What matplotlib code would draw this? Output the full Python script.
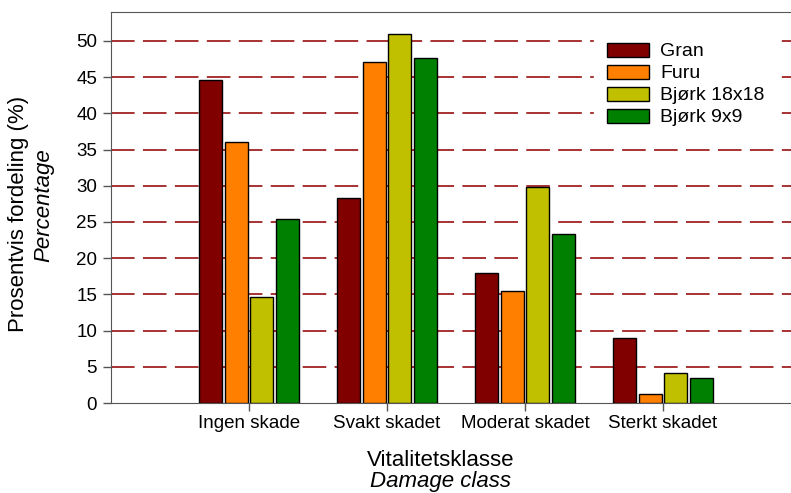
import numpy as np
import matplotlib.pyplot as plt

plt.rcParams['font.family'] = ['Liberation Sans', 'DejaVu Sans']
plt.rcParams['lines.scale_dashes'] = False

# Data
classes = ['Ingen skade', 'Svakt skadet', 'Moderat skadet', 'Sterkt skadet']
series = ['Gran', 'Furu', 'Bjørk 18x18', 'Bjørk 9x9']
gran = [44.6, 28.3, 17.9, 9.0]
furu = [36.1, 47.1, 15.5, 1.2]
bjork18 = [14.7, 51.0, 29.9, 4.1]
bjork9 = [25.4, 47.6, 23.3, 3.5]
colors = ['#800000', '#ff8000', '#c0c000', '#008000']

values = [gran, furu, bjork18, bjork9]

fig = plt.figure(figsize=(7.91, 4.93), dpi=100)
ax = fig.add_axes([111 / 791, 1 - 403 / 493, 690 / 791, 391 / 493])

x = np.arange(len(classes))
step = 0.186
width = 0.167
for i, (name, vals, c) in enumerate(zip(series, values, colors)):
    ax.bar(x + (i - 1.5) * step, vals, width, color=c, edgecolor='black',
           linewidth=1.0, label=name, zorder=3)

ax.set_xlim(-1, 4)
ax.set_ylim(0, 54)
ax.set_yticks(np.arange(0, 51, 5))
ax.set_xticks(x)
ax.set_xticklabels(classes)

for y in np.arange(5, 51, 5):
    ax.axhline(y, color='#a02222', linewidth=1.3, dashes=(17, 6), zorder=1)

for s in ['left', 'top', 'bottom']:
    ax.spines[s].set_color('#555555')
ax.spines['right'].set_visible(False)
ax.tick_params(axis='both', labelsize=13.5, colors='#555555', labelcolor='black',
               length=6, width=1)
ax.tick_params(axis='y', pad=4)
ax.tick_params(axis='x', pad=3)

fig.text(19 / 791, 1 - 214 / 493, 'Prosentvis fordeling (%)', rotation=90,
         ha='center', va='center', fontsize=16)
fig.text(44 / 791, 1 - 205 / 493, 'Percentage', rotation=90, style='italic',
         ha='center', va='center', fontsize=16)
fig.text(441 / 791, 1 - 460 / 493, 'Vitalitetsklasse', ha='center', va='center',
         fontsize=16)
fig.text(441 / 791, 1 - 482 / 493, 'Damage class', ha='center', va='center',
         fontsize=16, style='italic')

leg = ax.legend(loc='upper left', bbox_to_anchor=(594 / 791, 1 - 30 / 493),
                bbox_transform=fig.transFigure, frameon=True, fontsize=14,
                handlelength=2.2, handleheight=0.72, handletextpad=0.55,
                labelspacing=0.22, borderpad=0.65, borderaxespad=0)
leg.get_frame().set_edgecolor('white')
leg.get_frame().set_facecolor('white')
leg.get_frame().set_alpha(1)
leg.get_frame().set_boxstyle('square', pad=0)
leg.set_zorder(5)

fig.savefig('out.png', dpi=100)
